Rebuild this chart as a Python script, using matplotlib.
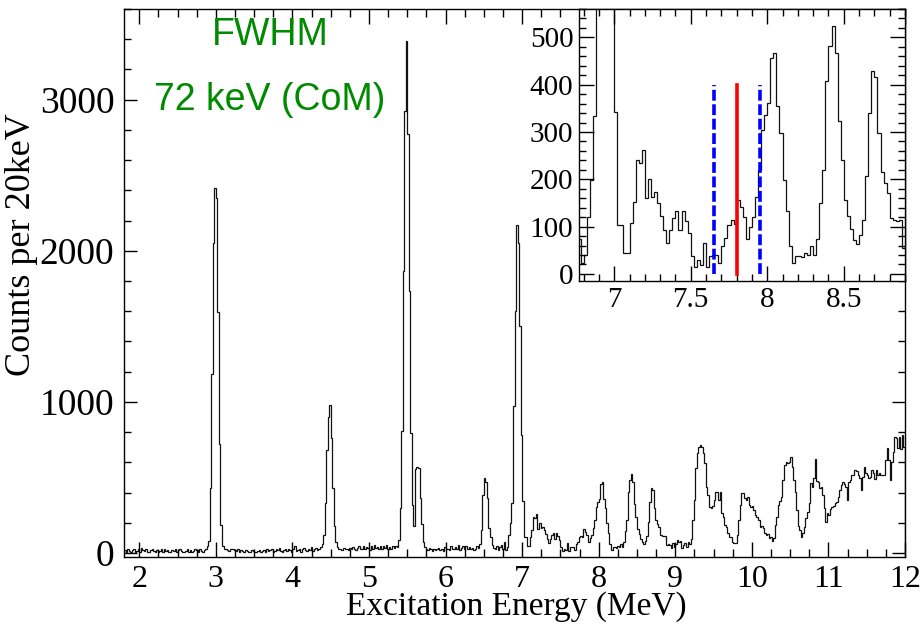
import numpy as np
import matplotlib
matplotlib.use("Agg")
import matplotlib.pyplot as plt
from matplotlib.ticker import MultipleLocator

# ---------------- data (counts per 20 keV bin) ----------------
E_MIN = 1.80      # MeV, lower edge of the first bin
BIN_W = 0.02      # MeV

# 1.80 - 3.78 MeV
counts_a = [
    20, 10, 25, 15, 5, 20, 30, 10, 15, 25,
    10, 35, 20, 15, 30, 10, 5, 20, 25, 15,
    10, 20, 5, 15, 25, 10, 30, 15, 20, 10,
    5, 20, 15, 25, 10, 20, 30, 15, 5, 10,
    15, 25, 10, 20, 5, 15, 30, 20, 10, 25,
    15, 10, 20, 25, 45, 81, 430, 1187, 2049, 2417,
    2350, 1596, 724, 187, 50, 30, 25, 20, 15, 25,
    30, 25, 20, 15, 25, 10, 20, 15, 10, 20,
    15, 5, 10, 20, 15, 10, 5, 15, 20, 10,
    15, 20, 10, 25, 15, 20, 30, 10, 15, 25,
]
# 3.80 - 5.78 MeV
counts_b = [
    20, 35, 15, 10, 20, 25, 15, 30, 20, 10,
    25, 45, 15, 20, 30, 10, 25, 35, 20, 15,
    30, 20, 40, 15, 25, 35, 20, 30, 40, 60,
    120, 330, 680, 900, 980, 760, 430, 180, 70, 40,
    25, 30, 20, 35, 25, 30, 20, 35, 25, 40,
    30, 20, 35, 45, 25, 30, 50, 25, 40, 35,
    20, 45, 30, 55, 35, 40, 25, 50, 30, 45,
    35, 55, 25, 40, 30, 45, 35, 50, 40, 86,
    300, 808, 1868, 2927, 3390, 2771, 1735, 797, 315, 182,
    556, 569, 565, 363, 195, 74, 40, 30, 20, 35,
]
# 5.80 - 6.98 MeV
counts_c = [
    25, 15, 30, 20, 25, 35, 20, 30, 15, 40,
    25, 30, 20, 45, 30, 25, 40, 30, 55, 20,
    35, 45, 25, 50, 30, 40, 25, 35, 20, 30,
    45, 31, 60, 152, 384, 495, 470, 362, 163, 108,
    53, 35, 25, 45, 20, 40, 55, 30, 73, 23,
    40, 121, 199, 333, 970, 1600, 2170, 2050, 1500, 780,
]
# 7.00 - 8.98 MeV
counts_d = [
    342, 104, 104, 44, 44, 107, 153, 241, 234, 261,
    160, 200, 163, 174, 150, 123, 93, 65, 93, 118,
    132, 93, 132, 111, 86, 37, 15, 30, 19, 65,
    15, 38, 40, 40, 23, 59, 75, 104, 114, 106,
    156, 142, 121, 74, 100, 121, 163, 220, 304, 336,
    361, 456, 468, 355, 297, 199, 132, 58, 23, 37,
    38, 36, 44, 40, 58, 40, 73, 149, 220, 407,
    481, 524, 468, 324, 241, 156, 123, 94, 72, 63,
    82, 114, 206, 340, 428, 417, 297, 216, 192, 171,
    118, 113, 111, 114, 54, 60, 53, 31, 68, 42,
]
# 9.00 - 11.98 MeV
counts_e = [
    60, 86, 70, 82, 31, 53, 64, 40, 70, 60,
    90, 218, 351, 560, 660, 704, 715, 705, 660, 594,
    439, 384, 302, 296, 311, 351, 406, 406, 351, 406,
    263, 241, 185, 174, 130, 108, 108, 75, 64, 68,
    119, 218, 318, 400, 395, 362, 351, 373, 318, 302,
    311, 285, 252, 236, 218, 174, 180, 163, 130, 119,
    125, 97, 108, 82, 97, 185, 241, 318, 346, 369,
    483, 583, 605, 594, 605, 634, 572, 483, 406, 285,
    179, 152, 108, 130, 174, 230, 270, 329, 461, 439,
    494, 623, 480, 472, 428, 435, 384, 296, 208, 263,
    250, 289, 302, 310, 329, 340, 373, 417, 450, 472,
    460, 439, 351, 472, 483, 516, 516, 550, 540, 516,
    494, 417, 505, 572, 528, 516, 494, 505, 550, 528,
    488, 550, 516, 528, 516, 516, 516, 616, 693, 616,
    483, 600, 671, 770, 759, 693, 770, 690, 780, 700,
]

# markers in the inset (MeV)
window_lines = [7.65, 7.95]
centre_line = 7.80
marker_top = 400

x_label = "Excitation Energy (MeV)"
y_label = "Counts per 20keV"
note_1 = "FWHM"
note_2 = "72 keV (CoM)"

counts = np.concatenate([counts_a, counts_b, counts_c, counts_d, counts_e])
edges = E_MIN + BIN_W * np.arange(len(counts) + 1)

# ---------------- figure ----------------
W, H = 922, 628
fig = plt.figure(figsize=(W / 100, H / 100), dpi=100)
PX = 72 / 100.0  # points per pixel


def box(l, t, r, b):
    return [l / W, 1 - b / H, (r - l) / W, (b - t) / H]


serif = "Liberation Serif"
sans = "Liberation Sans"

# main axes
ax = fig.add_axes(box(124, 9, 905, 557))
ax.stairs(counts, edges, color="#111111", lw=0.9)
ax.set_xlim(1.8, 12.0)
ax.set_ylim(-26, 3600)
ax.xaxis.set_major_locator(MultipleLocator(1))
ax.xaxis.set_minor_locator(MultipleLocator(0.25))
ax.yaxis.set_major_locator(MultipleLocator(1000))
ax.yaxis.set_minor_locator(MultipleLocator(200))
ax.tick_params(which="both", direction="in", top=True, right=True, width=1.0)
ax.tick_params(axis="x", which="major", length=15 * PX, pad=6)
ax.tick_params(axis="x", which="minor", length=8 * PX)
ax.tick_params(axis="y", which="major", length=13 * PX, pad=7)
ax.tick_params(axis="y", which="minor", length=7 * PX)
for lab in ax.get_xticklabels():
    lab.set_fontfamily(serif)
    lab.set_fontsize(23)
for lab in ax.get_yticklabels():
    lab.set_fontfamily(serif)
    lab.set_fontsize(27)
for s in ax.spines.values():
    s.set_linewidth(1.0)

fig.text(516 / W, 1 - 607 / H, x_label, family=serif, fontsize=24,
         ha="center", va="center")
fig.text(21 / W, 1 - 245 / H, y_label, family=serif, fontsize=26,
         ha="center", va="center", rotation=90)

fig.text(270 / W, 1 - 35 / H, note_1, family=sans, fontsize=27,
         color="#008a00", ha="center", va="center")
fig.text(270 / W, 1 - 100 / H, note_2, family=sans, fontsize=27,
         color="#008a00", ha="center", va="center")

# inset axes
ins = fig.add_axes(box(579, 9, 905, 281))
ins.set_facecolor("white")
ins.stairs(counts, edges, color="#111111", lw=0.9)
ins.set_xlim(6.77, 8.9)
ins.set_ylim(-15, 560)
ins.xaxis.set_major_locator(MultipleLocator(0.5))
ins.xaxis.set_minor_locator(MultipleLocator(0.1))
ins.yaxis.set_major_locator(MultipleLocator(100))
ins.yaxis.set_minor_locator(MultipleLocator(20))
ins.tick_params(which="both", direction="in", top=True, right=True, width=1.0)
ins.tick_params(which="major", length=15 * PX)
ins.tick_params(which="minor", length=7 * PX)
ins.tick_params(axis="x", pad=4)
ins.tick_params(axis="y", pad=4)
ins.xaxis.set_major_formatter(plt.FuncFormatter(lambda v, p: f"{v:g}"))
for lab in ins.get_xticklabels() + ins.get_yticklabels():
    lab.set_fontfamily(serif)
    lab.set_fontsize(21)
for s in ins.spines.values():
    s.set_linewidth(1.0)

for xv in window_lines:
    ins.plot([xv, xv], [0, marker_top], color="#0000ff", lw=2.6,
             ls=(0, (3, 1)))
ins.plot([centre_line, centre_line], [0, marker_top], color="#ff0000", lw=2.6)

fig.savefig("out.png", dpi=100)
